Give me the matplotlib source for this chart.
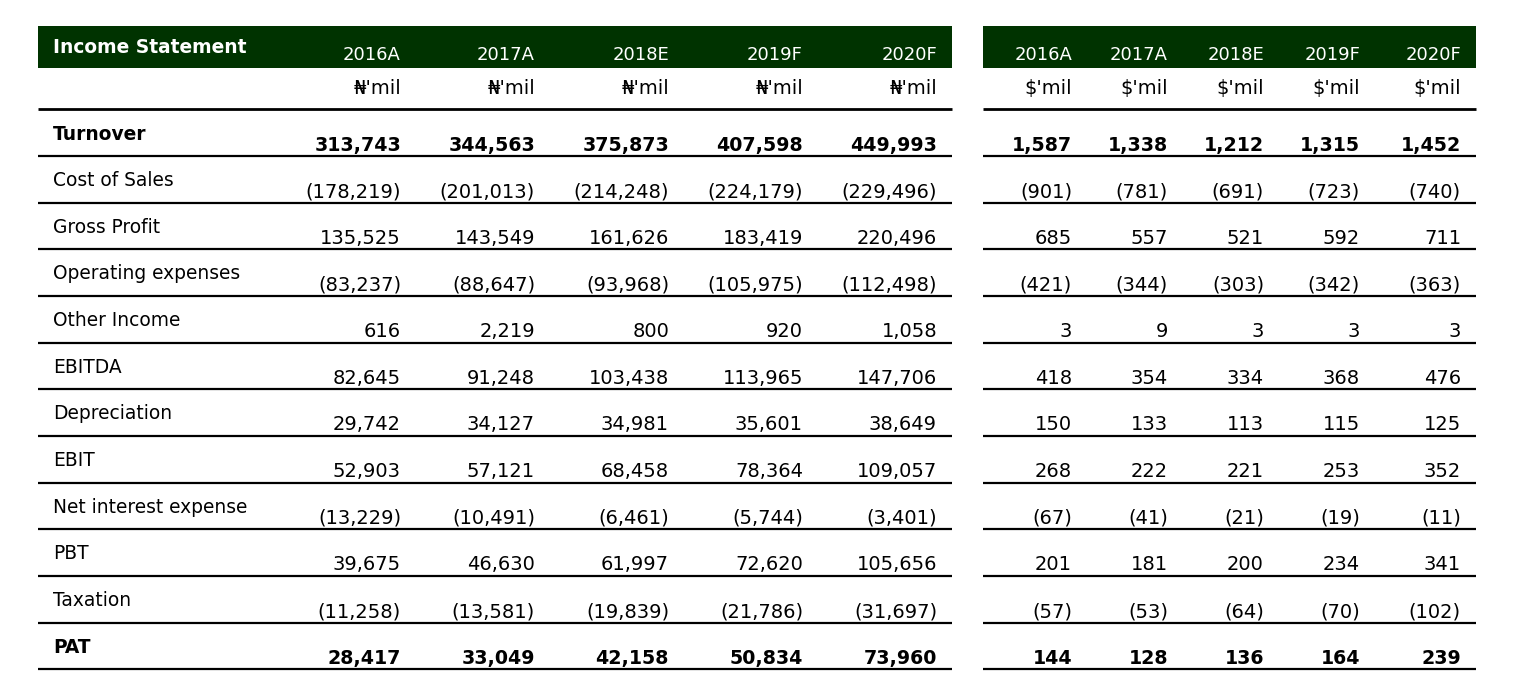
import matplotlib.pyplot as plt

# row labels and values
rows = ["Turnover", "Cost of Sales", "Gross Profit", "Operating expenses", "Other Income",
        "EBITDA", "Depreciation", "EBIT", "Net interest expense", "PBT", "Taxation", "PAT"]
bold_rows = ["Turnover", "PAT"]
years = ["2016A", "2017A", "2018E", "2019F", "2020F"]

naira = [
    [313743, 344563, 375873, 407598, 449993],
    [-178219, -201013, -214248, -224179, -229496],
    [135525, 143549, 161626, 183419, 220496],
    [-83237, -88647, -93968, -105975, -112498],
    [616, 2219, 800, 920, 1058],
    [82645, 91248, 103438, 113965, 147706],
    [29742, 34127, 34981, 35601, 38649],
    [52903, 57121, 68458, 78364, 109057],
    [-13229, -10491, -6461, -5744, -3401],
    [39675, 46630, 61997, 72620, 105656],
    [-11258, -13581, -19839, -21786, -31697],
    [28417, 33049, 42158, 50834, 73960],
]
usd = [
    [1587, 1338, 1212, 1315, 1452],
    [-901, -781, -691, -723, -740],
    [685, 557, 521, 592, 711],
    [-421, -344, -303, -342, -363],
    [3, 9, 3, 3, 3],
    [418, 354, 334, 368, 476],
    [150, 133, 113, 115, 125],
    [268, 222, 221, 253, 352],
    [-67, -41, -21, -19, -11],
    [201, 181, 200, 234, 341],
    [-57, -53, -64, -70, -102],
    [144, 128, 136, 164, 239],
]


def fmt(v):
    if v < 0:
        return "({:,})".format(-v)
    return "{:,}".format(v)


GREEN = "#003300"
FS_HEAD = 13
FS_LABEL = 13.4
FS_NUM = 14
FS_BOLD = 13.7

fig = plt.figure(figsize=(15.22, 6.94), dpi=100)
ax = fig.add_axes([0, 0, 1, 1])
ax.set_xlim(0, 1522)
ax.set_ylim(694, 0)
ax.axis("off")

# panel geometry (pixels)
left_x0, left_x1 = 38, 952
right_x0, right_x1 = 983, 1476
left_cols = [401, 535, 669, 803, 937]
right_cols = [1072, 1168, 1264, 1360, 1461]
head_top, head_bot = 26, 68
first_line = 156
step = 46.65

# header bands
for x0, x1 in [(left_x0, left_x1), (right_x0, right_x1)]:
    ax.add_patch(plt.Rectangle((x0, head_top), x1 - x0, head_bot - head_top,
                               color=GREEN, lw=0))
    ax.plot([x0, x1], [108.5, 108.5], color="black", lw=2.0, solid_capstyle="butt")

ax.text(53, 47, "Income Statement", color="white", fontsize=FS_LABEL, fontweight="bold",
        va="center", ha="left")
for y, xr in zip(years, left_cols):
    ax.text(xr, 55, y, color="white", fontsize=FS_HEAD, va="center", ha="right")
    ax.text(xr, 88, "\u20a6'mil", color="black", fontsize=FS_NUM, va="center", ha="right")
for y, xr in zip(years, right_cols):
    ax.text(xr, 55, y, color="white", fontsize=FS_HEAD, va="center", ha="right")
    ax.text(xr, 88, "$'mil", color="black", fontsize=FS_NUM, va="center", ha="right")

for i, name in enumerate(rows):
    yb = first_line + i * step
    bold = name in bold_rows
    w = "bold" if bold else "normal"
    fs = FS_BOLD if bold else FS_NUM
    ax.text(53, yb - 22, name, fontsize=FS_LABEL, fontweight=w, va="center", ha="left")
    for v, xr in zip(naira[i], left_cols):
        ax.text(xr, yb - 11, fmt(v), fontsize=fs, fontweight=w, va="center", ha="right")
    for v, xr in zip(usd[i], right_cols):
        ax.text(xr, yb - 11, fmt(v), fontsize=fs, fontweight=w, va="center", ha="right")
    for x0, x1 in [(left_x0, left_x1), (right_x0, right_x1)]:
        ax.plot([x0, x1], [yb, yb], color="black", lw=1.6, solid_capstyle="butt")

fig.savefig("out.png", dpi=100)
